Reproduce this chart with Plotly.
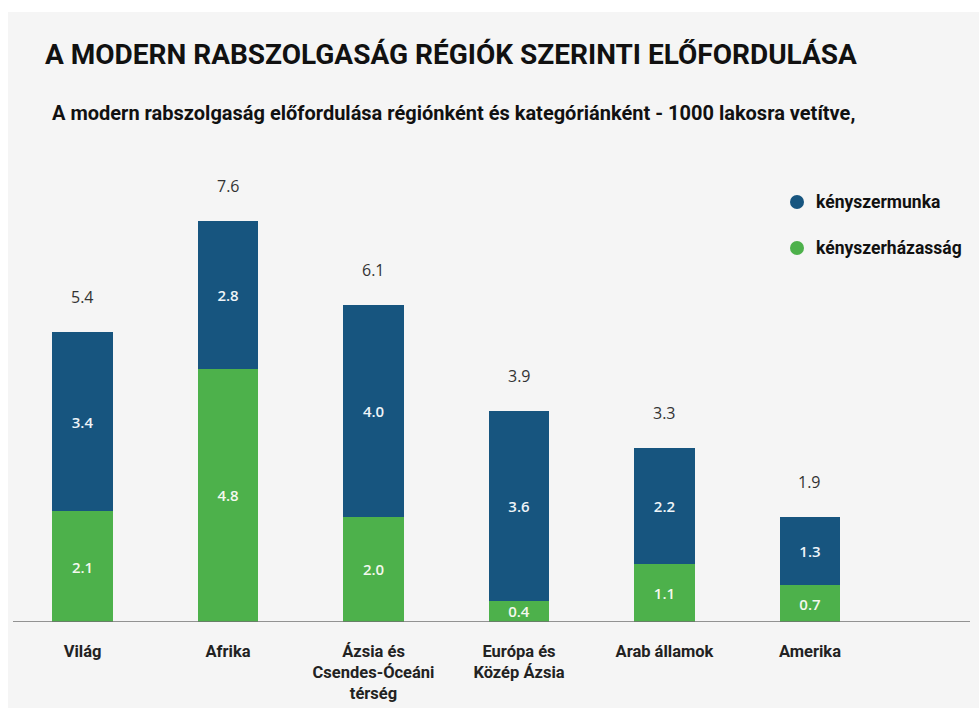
import plotly.graph_objects as go

categories = ["Világ", "Afrika", "Ázsia és<br>Csendes-Óceáni<br>térség", "Európa és<br>Közép Ázsia", "Arab államok", "Amerika"]
hazassag = [2.1, 4.8, 2.0, 0.4, 1.1, 0.7]
munka = [3.4, 2.8, 4.0, 3.6, 2.2, 1.3]
totals = [5.4, 7.6, 6.1, 3.9, 3.3, 1.9]
series_names = ["kényszermunka", "kényszerházasság"]

BLUE = "#17557f"
GREEN = "#4db14b"
COND = "Roboto, sans-serif"
NUM = "Open Sans, Lato, sans-serif"

W, H = 979, 708
ML, MR, MT, MB = 13, 9, 162, 86
PW, PH = W - ML - MR, H - MT - MB


def px(xp):
    return (xp - ML) / PW


def py(yp):
    return (H - MB - yp) / PH


x = list(range(len(categories)))

fig = go.Figure()
fig.add_trace(go.Bar(
    x=x, y=hazassag, name=series_names[1], marker=dict(color=GREEN, line=dict(width=0)),
    text=[f"{v:.1f}" for v in hazassag], textposition="inside", insidetextanchor="middle",
    constraintext="none", cliponaxis=False,
    textfont=dict(color="#f4f8ee", size=15, family=NUM, weight=600), showlegend=False,
))
fig.add_trace(go.Bar(
    x=x, y=munka, name=series_names[0], marker=dict(color=BLUE, line=dict(width=0)),
    text=[f"{v:.1f}" for v in munka], textposition="inside", insidetextanchor="middle",
    constraintext="none", cliponaxis=False,
    textfont=dict(color="#eef4f8", size=15, family=NUM, weight=600), showlegend=False,
))

stack_tops = [a + b for a, b in zip(hazassag, munka)]
for i, (t, s) in enumerate(zip(totals, stack_tops)):
    fig.add_annotation(x=i, y=s, text=f"{t:.1f}", showarrow=False, yanchor="bottom",
                       yshift=22, font=dict(size=16, color="#333333", family=NUM))

# titles
fig.add_annotation(xref="paper", yref="paper", x=px(43), y=py(55), xanchor="left", yanchor="middle",
                   text="<b>A MODERN RABSZOLGASÁG RÉGIÓK SZERINTI ELŐFORDULÁSA</b>",
                   showarrow=False, font=dict(size=28, color="#111111", family=COND))
fig.add_annotation(xref="paper", yref="paper", x=px(50), y=py(113), xanchor="left", yanchor="middle",
                   text="<b>A modern rabszolgaság előfordulása régiónként és kategóriánként - 1000 lakosra vetítve,</b>",
                   showarrow=False, font=dict(size=20, color="#111111", family=COND))

# custom legend
legend_colors = [BLUE, GREEN]
legend_y = [202, 248]
for name, col, ly in zip(series_names, legend_colors, legend_y):
    fig.add_shape(type="circle", xref="paper", yref="paper",
                  x0=px(790), x1=px(804), y0=py(ly + 7), y1=py(ly - 7),
                  fillcolor=col, line=dict(width=0))
    fig.add_annotation(xref="paper", yref="paper", x=px(814), y=py(ly), xanchor="left", yanchor="middle",
                       text=f"<b>{name}</b>", showarrow=False,
                       font=dict(size=17.5, color="#111111", family=COND))

fig.add_shape(type="rect", xref="paper", yref="paper", x0=px(8), x1=px(979), y0=py(708), y1=py(12),
              fillcolor="#f5f5f5", line=dict(width=0), layer="below")

fig.update_layout(
    width=W, height=H,
    margin=dict(l=ML, r=MR, t=MT, b=MB, autoexpand=False),
    paper_bgcolor="white", plot_bgcolor="rgba(0,0,0,0)",
    barmode="stack", bargap=0.585,
    showlegend=False,
    xaxis=dict(range=[-0.478, 6.1], tickmode="array", tickvals=x, ticktext=categories,
               showgrid=False, zeroline=False, showline=False, ticks="", automargin=False,
               ticklabelstandoff=17,
               tickfont=dict(size=16.5, color="#222222", family=COND, weight="bold")),
    yaxis=dict(range=[0, 8.72], visible=False, showgrid=False, automargin=False),
)
fig.add_shape(type="line", xref="paper", yref="y", x0=0, x1=px(970), y0=0, y1=0,
              line=dict(color="#707070", width=1.5))

fig.write_html("out.html", config={"displayModeBar": False},
               post_script="document.body.style.margin='0';document.body.style.background='white';")
